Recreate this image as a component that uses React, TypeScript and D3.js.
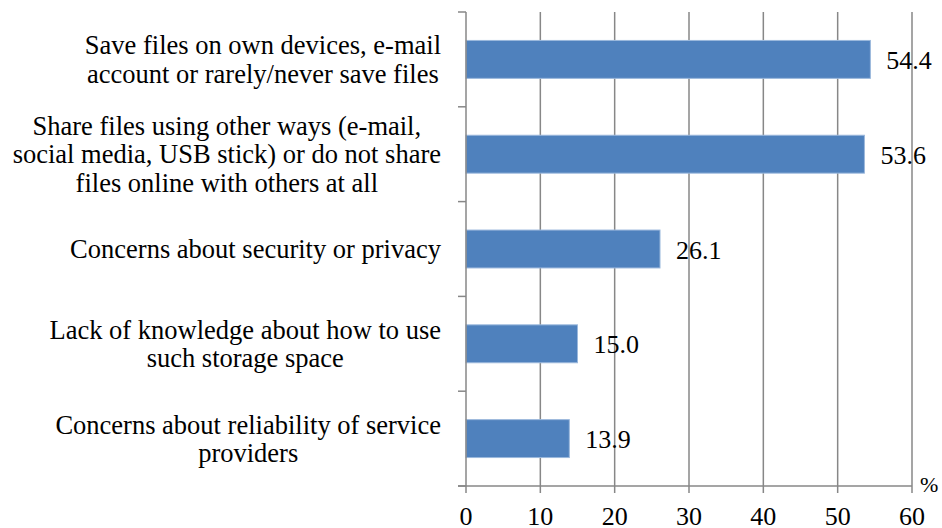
import React, { useLayoutEffect, useRef, useState } from "react";
import * as d3 from "d3";

const categories: string[][] = [
  ["Save files on own devices, e-mail", "account or rarely/never save files"],
  ["Share files using other ways (e-mail,", "social media, USB stick) or do not share", "files online with others at all"],
  ["Concerns about security or privacy"],
  ["Lack of knowledge about how to use", "such storage space"],
  ["Concerns about reliability of service", "providers"],
];
const values: number[] = [54.4, 53.6, 26.1, 15.0, 13.9];
const xTicks: number[] = [0, 10, 20, 30, 40, 50, 60];
const unitLabel = "%";

const W = 942;
const H = 528;
const M = { left: 466, right: 30, top: 12, bottom: 42 };
const FONT = "Liberation Serif";
const GRID = "#878787";
const LABEL_RIGHT = 441;
const LH = 28.5;

export default function App() {
  const x = d3.scaleLinear().domain([0, 60]).range([M.left, W - M.right]);
  const y = d3
    .scaleBand<number>()
    .domain(d3.range(values.length))
    .range([M.top, H - M.bottom])
    .padding(0);
  const barH = y.bandwidth() * 0.4;
  const y0 = H - M.bottom;
  const bounds = d3.range(values.length + 1).map((i) =>
    i < values.length ? (y(i) as number) : y0
  );

  const groupRefs = useRef<(SVGGElement | null)[]>([]);
  const [blockW, setBlockW] = useState<number[]>(categories.map(() => 300));

  useLayoutEffect(() => {
    const ws = groupRefs.current.map((g) => {
      if (!g) return 300;
      let m = 0;
      g.querySelectorAll("text").forEach((t) => {
        const w = (t as SVGTextElement).getComputedTextLength();
        if (w > m) m = w;
      });
      return m;
    });
    setBlockW(ws);
  }, []);

  const txt = { fontFamily: FONT } as React.CSSProperties;

  return (
    <svg width={W} height={H} style={{ position: "absolute", left: 0, top: 0, background: "#fff" }}>
      {xTicks.slice(1).map((t) => (
        <line key={"g" + t} x1={x(t)} x2={x(t)} y1={M.top} y2={y0 + 7} stroke={GRID} strokeWidth={1.5} />
      ))}
      {values.map((v, i) => (
        <rect
          key={"b" + i}
          x={x(0)}
          y={(y(i) as number) + (y.bandwidth() - barH) / 2}
          width={x(v) - x(0)}
          height={barH}
          fill="#4F81BD"
          stroke="#9bb8dc"
          strokeWidth={1}
        />
      ))}
      <line x1={x(0)} x2={x(0)} y1={M.top} y2={y0 + 7} stroke={GRID} strokeWidth={1.5} />
      {bounds.map((b, i) => (
        <line key={"t" + i} x1={x(0) - 8} x2={x(0)} y1={b} y2={b} stroke={GRID} strokeWidth={1.5} />
      ))}
      <line x1={x(0) - 8} x2={x(60)} y1={y0} y2={y0} stroke={GRID} strokeWidth={1.5} />
      {xTicks.map((t) => (
        <text key={"x" + t} x={x(t)} y={y0 + 39} textAnchor="middle" fontSize={26} fill="#000" style={txt}>
          {String(t)}
        </text>
      ))}
      <text x={x(60) + 8} y={y0 + 6} fontSize={22} fill="#000" style={txt}>
        {unitLabel}
      </text>
      {values.map((v, i) => (
        <text
          key={"v" + i}
          x={x(v) + 16}
          y={(y(i) as number) + y.bandwidth() / 2}
          dy="0.37em"
          fontSize={26}
          fill="#000"
          style={txt}
        >
          {v.toFixed(1)}
        </text>
      ))}
      {categories.map((lines, i) => {
        const cy = (y(i) as number) + y.bandwidth() / 2;
        const cx = LABEL_RIGHT - blockW[i] / 2;
        return (
          <g key={"c" + i} ref={(el) => { groupRefs.current[i] = el; }}>
            {lines.map((ln, j) => (
              <text
                key={j}
                x={cx}
                y={cy + (j - (lines.length - 1) / 2) * LH}
                dy="0.35em"
                textAnchor="middle"
                fontSize={26.5}
                fill="#000"
                style={txt}
              >
                {ln}
              </text>
            ))}
          </g>
        );
      })}
    </svg>
  );
}
